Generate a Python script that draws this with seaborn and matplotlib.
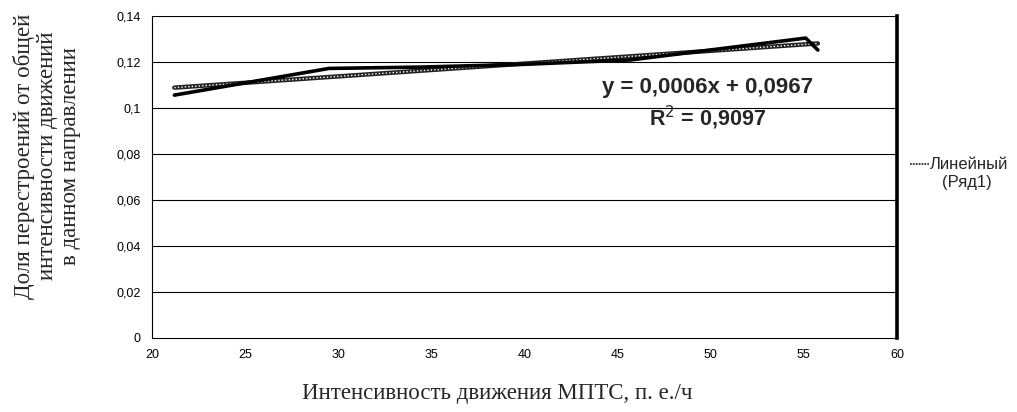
import numpy as np
import pandas as pd
import seaborn as sns
import matplotlib.pyplot as plt
from matplotlib.ticker import FuncFormatter, MultipleLocator
from matplotlib.lines import Line2D

# данные
intensity = [21.2, 29.5, 34.5, 40.0, 45.7, 55.1, 55.75]
share = [0.1056, 0.1172, 0.1178, 0.1190, 0.1209, 0.1304, 0.1252]
eq_text = "y = 0,0006x + 0,0967"
r2_text = "R$^2$ = 0,9097"
x_label = "Интенсивность движения МПТС, п. е./ч"
y_label = "Доля перестроений от общей\nинтенсивности движений\nв данном направлении"
legend_label = "Линейный"
legend_label2 = "(Ряд1)"

df = pd.DataFrame({'x': intensity, 'y': share})

sns.set_style("white")
plt.rcParams['font.family'] = ['Liberation Sans', 'DejaVu Sans']

fig = plt.figure(figsize=(10.17, 4.12), dpi=100)
ax = fig.add_axes([152 / 1017, (412 - 338) / 412, (897 - 152) / 1017, (338 - 16) / 412])

# линия тренда (пунктир поверх толстой линии)
sns.regplot(data=df, x='x', y='y', scatter=False, ci=None, ax=ax,
            line_kws={'color': '#222222', 'lw': 3.2, 'zorder': 3})
sns.regplot(data=df, x='x', y='y', scatter=False, ci=None, ax=ax,
            line_kws={'color': 'white', 'lw': 1.0, 'ls': (0, (1, 1.5)), 'zorder': 4})
# ряд данных
sns.lineplot(data=df, x='x', y='y', sort=False, color='black', lw=2.6, ax=ax, zorder=5)

ax.set_xlim(20, 60)
ax.set_ylim(0, 0.14)
ax.xaxis.set_major_locator(MultipleLocator(5))
ax.yaxis.set_major_locator(MultipleLocator(0.02))
fmt = FuncFormatter(lambda v, p: f"{round(v, 4):g}".replace('.', ','))
ax.yaxis.set_major_formatter(fmt)
ax.xaxis.set_major_formatter(FuncFormatter(lambda v, p: f"{v:g}"))

for v in np.arange(0.02, 0.141, 0.02):
    ax.axhline(v, color='black', lw=0.8, zorder=1)

ax.spines['top'].set_visible(False)
ax.spines['left'].set_color('black')
ax.spines['left'].set_linewidth(0.8)
ax.spines['bottom'].set_color('black')
ax.spines['bottom'].set_linewidth(0.8)
ax.spines['right'].set_color('black')
ax.spines['right'].set_linewidth(2.6)

ax.tick_params(axis='both', direction='inout', length=8, width=0.8, color='black',
               labelsize=9, labelcolor='black')
ax.tick_params(axis='x', pad=4)
ax.tick_params(axis='y', pad=4)
ax.set_xlabel('')
ax.set_ylabel('')

fig.text(708 / 1017, 1 - 88 / 412, eq_text, fontsize=16, fontweight='bold',
         ha='center', va='center')
fig.text(708 / 1017, 1 - 118 / 412, r2_text, fontsize=15.5, fontweight='bold',
         ha='center', va='center')

fig.text(497 / 1017, 1 - 394 / 412, x_label, family=['Liberation Serif', 'DejaVu Serif'],
         fontsize=16.5, ha='center', va='center')
fig.text(47 / 1017, 1 - 156 / 412, y_label, family=['Liberation Serif', 'DejaVu Serif'],
         fontsize=16.5, ha='center', va='center', rotation=90, multialignment='center',
         linespacing=1.15)

# легенда справа
handle = Line2D([], [], color='#333333', lw=1.3, ls=(0, (1, 0.6)))
fig.legend([handle], [legend_label], loc='center left',
           bbox_to_anchor=(902 / 1017, 1 - 165 / 412), frameon=False,
           fontsize=12, handlelength=1.1, handletextpad=0.1, borderpad=0)
fig.text(967 / 1017, 1 - 183 / 412, legend_label2, fontsize=12,
         ha='center', va='center')

fig.savefig('out.png', dpi=100)
